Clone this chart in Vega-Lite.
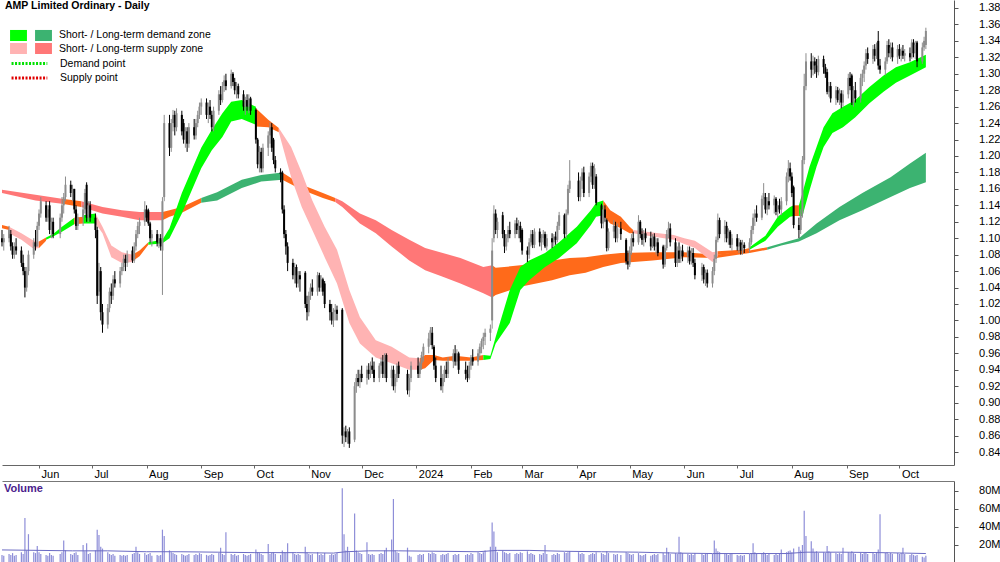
{
"$schema": "https://vega.github.io/schema/vega-lite/v6.json",
"padding": 0,
"autosize": {"type": "pad"},
"background": "white",
"config": {
 "view": {"stroke": null},
 "font": "Liberation Sans",
 "concat": {"spacing": 2},
 "axis": {"labelFont": "Liberation Sans", "labelColor": "#000", "domainColor": "#555", "tickColor": "#555", "grid": false, "title": null, "labelOverlap": false, "labelFontWeight": "normal"},
 "legend": {"labelFont": "Liberation Sans", "labelColor": "#000", "labelFontSize": 10.5, "padding": 0, "title": null}
},
"datasets": {
"px": [
{"d":"2023-05-11","o":1.100,"h":1.110,"l":1.090,"c":1.095,"v":9},
{"d":"2023-05-12","o":1.095,"h":1.105,"l":1.085,"c":1.100,"v":8},
{"d":"2023-05-15","o":1.100,"h":1.115,"l":1.095,"c":1.110,"v":10},
{"d":"2023-05-16","o":1.105,"h":1.110,"l":1.085,"c":1.090,"v":9},
{"d":"2023-05-17","o":1.090,"h":1.095,"l":1.075,"c":1.080,"v":11},
{"d":"2023-05-18","o":1.080,"h":1.095,"l":1.075,"c":1.090,"v":8},
{"d":"2023-05-19","o":1.090,"h":1.100,"l":1.080,"c":1.085,"v":9},
{"d":"2023-05-22","o":1.085,"h":1.090,"l":1.065,"c":1.070,"v":12},
{"d":"2023-05-23","o":1.070,"h":1.080,"l":1.055,"c":1.060,"v":10},
{"d":"2023-05-24","o":1.060,"h":1.065,"l":1.028,"c":1.040,"v":50},
{"d":"2023-05-25","o":1.040,"h":1.065,"l":1.035,"c":1.060,"v":14},
{"d":"2023-05-26","o":1.060,"h":1.085,"l":1.055,"c":1.080,"v":32},
{"d":"2023-05-29","o":1.080,"h":1.100,"l":1.075,"c":1.095,"v":12},
{"d":"2023-05-30","o":1.095,"h":1.110,"l":1.085,"c":1.090,"v":11},
{"d":"2023-05-31","o":1.090,"h":1.120,"l":1.090,"c":1.115,"v":19},
{"d":"2023-06-01","o":1.115,"h":1.135,"l":1.110,"c":1.130,"v":12},
{"d":"2023-06-02","o":1.130,"h":1.150,"l":1.125,"c":1.145,"v":10},
{"d":"2023-06-05","o":1.140,"h":1.145,"l":1.120,"c":1.125,"v":9},
{"d":"2023-06-06","o":1.125,"h":1.140,"l":1.120,"c":1.135,"v":8},
{"d":"2023-06-07","o":1.140,"h":1.145,"l":1.105,"c":1.110,"v":11},
{"d":"2023-06-08","o":1.110,"h":1.125,"l":1.100,"c":1.120,"v":9},
{"d":"2023-06-09","o":1.120,"h":1.125,"l":1.100,"c":1.105,"v":8},
{"d":"2023-06-13","o":1.105,"h":1.130,"l":1.100,"c":1.125,"v":10},
{"d":"2023-06-14","o":1.125,"h":1.150,"l":1.120,"c":1.140,"v":12},
{"d":"2023-06-15","o":1.140,"h":1.155,"l":1.130,"c":1.150,"v":25},
{"d":"2023-06-16","o":1.150,"h":1.175,"l":1.145,"c":1.165,"v":14},
{"d":"2023-06-19","o":1.165,"h":1.170,"l":1.150,"c":1.155,"v":10},
{"d":"2023-06-20","o":1.155,"h":1.165,"l":1.145,"c":1.160,"v":9},
{"d":"2023-06-21","o":1.160,"h":1.160,"l":1.130,"c":1.135,"v":11},
{"d":"2023-06-22","o":1.135,"h":1.140,"l":1.110,"c":1.115,"v":12},
{"d":"2023-06-23","o":1.115,"h":1.130,"l":1.110,"c":1.125,"v":9},
{"d":"2023-06-26","o":1.125,"h":1.140,"l":1.115,"c":1.135,"v":20},
{"d":"2023-06-27","o":1.135,"h":1.160,"l":1.130,"c":1.155,"v":13},
{"d":"2023-06-28","o":1.165,"h":1.168,"l":1.120,"c":1.125,"v":22},
{"d":"2023-06-29","o":1.125,"h":1.145,"l":1.120,"c":1.140,"v":10},
{"d":"2023-06-30","o":1.140,"h":1.145,"l":1.120,"c":1.125,"v":11},
{"d":"2023-07-03","o":1.125,"h":1.130,"l":1.100,"c":1.110,"v":14},
{"d":"2023-07-04","o":1.110,"h":1.114,"l":1.020,"c":1.030,"v":37},
{"d":"2023-07-05","o":1.035,"h":1.070,"l":1.030,"c":1.060,"v":31},
{"d":"2023-07-06","o":1.060,"h":1.065,"l":1.000,"c":1.010,"v":18},
{"d":"2023-07-07","o":1.010,"h":1.020,"l":0.985,"c":0.995,"v":16},
{"d":"2023-07-10","o":0.995,"h":1.020,"l":0.990,"c":1.015,"v":12},
{"d":"2023-07-11","o":1.015,"h":1.040,"l":1.010,"c":1.035,"v":10},
{"d":"2023-07-12","o":1.035,"h":1.045,"l":1.020,"c":1.030,"v":9},
{"d":"2023-07-13","o":1.030,"h":1.055,"l":1.025,"c":1.050,"v":10},
{"d":"2023-07-14","o":1.050,"h":1.060,"l":1.040,"c":1.045,"v":8},
{"d":"2023-07-17","o":1.045,"h":1.065,"l":1.040,"c":1.060,"v":9},
{"d":"2023-07-18","o":1.060,"h":1.070,"l":1.055,"c":1.065,"v":8},
{"d":"2023-07-19","o":1.065,"h":1.080,"l":1.060,"c":1.075,"v":9},
{"d":"2023-07-20","o":1.075,"h":1.080,"l":1.060,"c":1.070,"v":8},
{"d":"2023-07-21","o":1.070,"h":1.085,"l":1.065,"c":1.080,"v":9},
{"d":"2023-07-24","o":1.085,"h":1.090,"l":1.070,"c":1.073,"v":10},
{"d":"2023-07-25","o":1.073,"h":1.095,"l":1.070,"c":1.090,"v":11},
{"d":"2023-07-26","o":1.090,"h":1.110,"l":1.085,"c":1.105,"v":18},
{"d":"2023-07-27","o":1.105,"h":1.120,"l":1.100,"c":1.115,"v":12},
{"d":"2023-07-28","o":1.115,"h":1.125,"l":1.105,"c":1.120,"v":10},
{"d":"2023-07-31","o":1.120,"h":1.145,"l":1.115,"c":1.135,"v":11},
{"d":"2023-08-01","o":1.135,"h":1.140,"l":1.120,"c":1.125,"v":9},
{"d":"2023-08-02","o":1.134,"h":1.136,"l":1.115,"c":1.118,"v":10},
{"d":"2023-08-03","o":1.118,"h":1.120,"l":1.095,"c":1.100,"v":11},
{"d":"2023-08-04","o":1.100,"h":1.110,"l":1.090,"c":1.105,"v":8},
{"d":"2023-08-07","o":1.105,"h":1.110,"l":1.090,"c":1.095,"v":9},
{"d":"2023-08-08","o":1.095,"h":1.105,"l":1.088,"c":1.100,"v":8},
{"d":"2023-08-09","o":1.100,"h":1.105,"l":1.085,"c":1.090,"v":9},
{"d":"2023-08-10","o":1.085,"h":1.150,"l":1.031,"c":1.145,"v":37},
{"d":"2023-08-11","o":1.150,"h":1.250,"l":1.145,"c":1.240,"v":30},
{"d":"2023-08-14","o":1.240,"h":1.250,"l":1.200,"c":1.210,"v":14},
{"d":"2023-08-15","o":1.210,"h":1.245,"l":1.205,"c":1.240,"v":12},
{"d":"2023-08-16","o":1.240,"h":1.256,"l":1.230,"c":1.250,"v":11},
{"d":"2023-08-17","o":1.250,"h":1.255,"l":1.225,"c":1.235,"v":10},
{"d":"2023-08-18","o":1.235,"h":1.258,"l":1.230,"c":1.252,"v":9},
{"d":"2023-08-21","o":1.250,"h":1.255,"l":1.225,"c":1.230,"v":10},
{"d":"2023-08-22","o":1.240,"h":1.245,"l":1.215,"c":1.220,"v":9},
{"d":"2023-08-23","o":1.220,"h":1.235,"l":1.210,"c":1.230,"v":8},
{"d":"2023-08-24","o":1.230,"h":1.235,"l":1.205,"c":1.215,"v":9},
{"d":"2023-08-25","o":1.215,"h":1.240,"l":1.210,"c":1.235,"v":10},
{"d":"2023-08-28","o":1.235,"h":1.245,"l":1.220,"c":1.225,"v":9},
{"d":"2023-08-29","o":1.225,"h":1.245,"l":1.220,"c":1.240,"v":10},
{"d":"2023-08-30","o":1.240,"h":1.255,"l":1.235,"c":1.250,"v":9},
{"d":"2023-08-31","o":1.250,"h":1.265,"l":1.245,"c":1.260,"v":11},
{"d":"2023-09-01","o":1.260,"h":1.270,"l":1.250,"c":1.265,"v":10},
{"d":"2023-09-04","o":1.265,"h":1.270,"l":1.245,"c":1.250,"v":9},
{"d":"2023-09-05","o":1.250,"h":1.265,"l":1.240,"c":1.260,"v":8},
{"d":"2023-09-06","o":1.260,"h":1.268,"l":1.245,"c":1.250,"v":9},
{"d":"2023-09-07","o":1.250,"h":1.255,"l":1.230,"c":1.235,"v":10},
{"d":"2023-09-08","o":1.235,"h":1.260,"l":1.230,"c":1.255,"v":9},
{"d":"2023-09-11","o":1.255,"h":1.280,"l":1.250,"c":1.275,"v":11},
{"d":"2023-09-12","o":1.275,"h":1.285,"l":1.262,"c":1.268,"v":17},
{"d":"2023-09-13","o":1.268,"h":1.290,"l":1.265,"c":1.285,"v":10},
{"d":"2023-09-14","o":1.285,"h":1.298,"l":1.278,"c":1.292,"v":9},
{"d":"2023-09-15","o":1.292,"h":1.300,"l":1.280,"c":1.285,"v":34},
{"d":"2023-09-18","o":1.285,"h":1.305,"l":1.282,"c":1.300,"v":10},
{"d":"2023-09-19","o":1.300,"h":1.302,"l":1.285,"c":1.290,"v":9},
{"d":"2023-09-20","o":1.290,"h":1.295,"l":1.275,"c":1.280,"v":10},
{"d":"2023-09-21","o":1.280,"h":1.290,"l":1.270,"c":1.285,"v":8},
{"d":"2023-09-22","o":1.285,"h":1.288,"l":1.270,"c":1.275,"v":9},
{"d":"2023-09-25","o":1.275,"h":1.280,"l":1.255,"c":1.260,"v":10},
{"d":"2023-09-26","o":1.260,"h":1.272,"l":1.250,"c":1.268,"v":9},
{"d":"2023-09-27","o":1.268,"h":1.275,"l":1.255,"c":1.260,"v":8},
{"d":"2023-09-28","o":1.260,"h":1.275,"l":1.252,"c":1.270,"v":9},
{"d":"2023-09-29","o":1.270,"h":1.272,"l":1.250,"c":1.255,"v":10},
{"d":"2023-10-02","o":1.256,"h":1.258,"l":1.215,"c":1.220,"v":15},
{"d":"2023-10-03","o":1.220,"h":1.222,"l":1.185,"c":1.190,"v":12},
{"d":"2023-10-04","o":1.190,"h":1.212,"l":1.180,"c":1.205,"v":11},
{"d":"2023-10-05","o":1.205,"h":1.210,"l":1.180,"c":1.185,"v":10},
{"d":"2023-10-06","o":1.185,"h":1.215,"l":1.180,"c":1.210,"v":9},
{"d":"2023-10-09","o":1.210,"h":1.230,"l":1.200,"c":1.225,"v":21},
{"d":"2023-10-10","o":1.225,"h":1.241,"l":1.215,"c":1.235,"v":10},
{"d":"2023-10-11","o":1.235,"h":1.240,"l":1.205,"c":1.210,"v":11},
{"d":"2023-10-12","o":1.220,"h":1.222,"l":1.190,"c":1.195,"v":12},
{"d":"2023-10-13","o":1.195,"h":1.200,"l":1.180,"c":1.185,"v":10},
{"d":"2023-10-16","o":1.180,"h":1.185,"l":1.168,"c":1.178,"v":9},
{"d":"2023-10-17","o":1.180,"h":1.182,"l":1.130,"c":1.135,"v":14},
{"d":"2023-10-18","o":1.135,"h":1.140,"l":1.100,"c":1.105,"v":12},
{"d":"2023-10-19","o":1.105,"h":1.110,"l":1.080,"c":1.090,"v":11},
{"d":"2023-10-20","o":1.090,"h":1.095,"l":1.060,"c":1.070,"v":22},
{"d":"2023-10-23","o":1.070,"h":1.075,"l":1.050,"c":1.055,"v":12},
{"d":"2023-10-24","o":1.055,"h":1.070,"l":1.045,"c":1.065,"v":10},
{"d":"2023-10-25","o":1.065,"h":1.068,"l":1.040,"c":1.045,"v":9},
{"d":"2023-10-26","o":1.045,"h":1.060,"l":1.040,"c":1.055,"v":10},
{"d":"2023-10-27","o":1.055,"h":1.060,"l":1.035,"c":1.050,"v":9},
{"d":"2023-10-30","o":1.058,"h":1.060,"l":1.015,"c":1.020,"v":18},
{"d":"2023-10-31","o":1.020,"h":1.030,"l":1.000,"c":1.010,"v":12},
{"d":"2023-11-01","o":1.010,"h":1.035,"l":1.005,"c":1.030,"v":10},
{"d":"2023-11-02","o":1.030,"h":1.045,"l":1.025,"c":1.040,"v":9},
{"d":"2023-11-03","o":1.040,"h":1.050,"l":1.030,"c":1.035,"v":10},
{"d":"2023-11-06","o":1.035,"h":1.059,"l":1.030,"c":1.055,"v":12},
{"d":"2023-11-07","o":1.055,"h":1.058,"l":1.035,"c":1.040,"v":9},
{"d":"2023-11-08","o":1.040,"h":1.055,"l":1.035,"c":1.050,"v":10},
{"d":"2023-11-09","o":1.050,"h":1.052,"l":1.030,"c":1.035,"v":9},
{"d":"2023-11-10","o":1.045,"h":1.048,"l":1.015,"c":1.020,"v":11},
{"d":"2023-11-13","o":1.020,"h":1.025,"l":1.000,"c":1.010,"v":9},
{"d":"2023-11-14","o":1.010,"h":1.020,"l":0.995,"c":1.000,"v":10},
{"d":"2023-11-15","o":1.000,"h":1.015,"l":0.992,"c":1.010,"v":9},
{"d":"2023-11-16","o":1.010,"h":1.020,"l":1.000,"c":1.013,"v":10},
{"d":"2023-11-17","o":1.013,"h":1.018,"l":1.000,"c":1.008,"v":11},
{"d":"2023-11-20","o":1.013,"h":1.015,"l":0.850,"c":0.860,"v":83},
{"d":"2023-11-21","o":0.860,"h":0.870,"l":0.846,"c":0.865,"v":32},
{"d":"2023-11-22","o":0.865,"h":0.872,"l":0.852,"c":0.858,"v":14},
{"d":"2023-11-23","o":0.858,"h":0.868,"l":0.850,"c":0.865,"v":18},
{"d":"2023-11-24","o":0.865,"h":0.870,"l":0.845,"c":0.850,"v":12},
{"d":"2023-11-27","o":0.855,"h":0.925,"l":0.852,"c":0.920,"v":55},
{"d":"2023-11-28","o":0.920,"h":0.935,"l":0.912,"c":0.930,"v":14},
{"d":"2023-11-29","o":0.930,"h":0.940,"l":0.920,"c":0.925,"v":12},
{"d":"2023-11-30","o":0.925,"h":0.940,"l":0.918,"c":0.935,"v":11},
{"d":"2023-12-01","o":0.935,"h":0.945,"l":0.925,"c":0.930,"v":10},
{"d":"2023-12-04","o":0.930,"h":0.945,"l":0.922,"c":0.940,"v":23},
{"d":"2023-12-05","o":0.940,"h":0.948,"l":0.928,"c":0.935,"v":10},
{"d":"2023-12-06","o":0.935,"h":0.950,"l":0.930,"c":0.945,"v":9},
{"d":"2023-12-07","o":0.945,"h":0.955,"l":0.935,"c":0.940,"v":10},
{"d":"2023-12-08","o":0.940,"h":0.950,"l":0.925,"c":0.930,"v":9},
{"d":"2023-12-11","o":0.930,"h":0.948,"l":0.925,"c":0.945,"v":10},
{"d":"2023-12-12","o":0.945,"h":0.955,"l":0.935,"c":0.950,"v":11},
{"d":"2023-12-13","o":0.950,"h":0.958,"l":0.930,"c":0.935,"v":10},
{"d":"2023-12-14","o":0.935,"h":0.960,"l":0.930,"c":0.955,"v":14},
{"d":"2023-12-15","o":0.958,"h":0.960,"l":0.925,"c":0.930,"v":17},
{"d":"2023-12-18","o":0.930,"h":0.945,"l":0.920,"c":0.940,"v":26},
{"d":"2023-12-19","o":0.940,"h":0.945,"l":0.915,"c":0.920,"v":71},
{"d":"2023-12-20","o":0.920,"h":0.935,"l":0.912,"c":0.930,"v":14},
{"d":"2023-12-21","o":0.930,"h":0.948,"l":0.925,"c":0.945,"v":12},
{"d":"2023-12-22","o":0.945,"h":0.950,"l":0.930,"c":0.935,"v":11},
{"d":"2023-12-27","o":0.935,"h":0.940,"l":0.910,"c":0.915,"v":17},
{"d":"2023-12-28","o":0.915,"h":0.935,"l":0.907,"c":0.930,"v":8},
{"d":"2023-12-29","o":0.930,"h":0.950,"l":0.925,"c":0.945,"v":7},
{"d":"2024-01-02","o":0.945,"h":0.955,"l":0.930,"c":0.935,"v":9},
{"d":"2024-01-03","o":0.935,"h":0.950,"l":0.930,"c":0.948,"v":10},
{"d":"2024-01-04","o":0.948,"h":0.962,"l":0.940,"c":0.958,"v":9},
{"d":"2024-01-05","o":0.958,"h":0.972,"l":0.950,"c":0.968,"v":10},
{"d":"2024-01-08","o":0.968,"h":0.985,"l":0.960,"c":0.978,"v":11},
{"d":"2024-01-09","o":0.978,"h":0.992,"l":0.970,"c":0.988,"v":10},
{"d":"2024-01-10","o":0.985,"h":0.992,"l":0.965,"c":0.970,"v":12},
{"d":"2024-01-11","o":0.968,"h":0.970,"l":0.940,"c":0.945,"v":11},
{"d":"2024-01-12","o":0.945,"h":0.955,"l":0.925,"c":0.930,"v":10},
{"d":"2024-01-15","o":0.930,"h":0.945,"l":0.915,"c":0.920,"v":9},
{"d":"2024-01-16","o":0.920,"h":0.935,"l":0.912,"c":0.930,"v":10},
{"d":"2024-01-17","o":0.930,"h":0.945,"l":0.925,"c":0.940,"v":9},
{"d":"2024-01-18","o":0.940,"h":0.950,"l":0.930,"c":0.935,"v":10},
{"d":"2024-01-19","o":0.935,"h":0.955,"l":0.930,"c":0.950,"v":11},
{"d":"2024-01-22","o":0.950,"h":0.965,"l":0.942,"c":0.960,"v":9},
{"d":"2024-01-23","o":0.960,"h":0.970,"l":0.945,"c":0.950,"v":10},
{"d":"2024-01-24","o":0.950,"h":0.965,"l":0.945,"c":0.960,"v":9},
{"d":"2024-01-25","o":0.960,"h":0.962,"l":0.935,"c":0.940,"v":10},
{"d":"2024-01-29","o":0.940,"h":0.950,"l":0.928,"c":0.935,"v":9},
{"d":"2024-01-30","o":0.935,"h":0.945,"l":0.925,"c":0.930,"v":10},
{"d":"2024-01-31","o":0.930,"h":0.950,"l":0.928,"c":0.945,"v":9},
{"d":"2024-02-01","o":0.945,"h":0.958,"l":0.940,"c":0.955,"v":11},
{"d":"2024-02-02","o":0.955,"h":0.965,"l":0.945,"c":0.950,"v":10},
{"d":"2024-02-05","o":0.950,"h":0.965,"l":0.945,"c":0.960,"v":12},
{"d":"2024-02-06","o":0.960,"h":0.972,"l":0.955,"c":0.968,"v":11},
{"d":"2024-02-07","o":0.968,"h":0.978,"l":0.960,"c":0.975,"v":10},
{"d":"2024-02-08","o":0.975,"h":0.985,"l":0.965,"c":0.980,"v":12},
{"d":"2024-02-09","o":0.980,"h":0.990,"l":0.970,"c":0.985,"v":14},
{"d":"2024-02-12","o":0.985,"h":0.995,"l":0.975,"c":0.990,"v":18},
{"d":"2024-02-13","o":1.000,"h":1.100,"l":0.990,"c":1.085,"v":45},
{"d":"2024-02-14","o":1.100,"h":1.140,"l":1.095,"c":1.130,"v":35},
{"d":"2024-02-15","o":1.130,"h":1.135,"l":1.105,"c":1.110,"v":18},
{"d":"2024-02-16","o":1.110,"h":1.125,"l":1.100,"c":1.120,"v":12},
{"d":"2024-02-19","o":1.128,"h":1.132,"l":1.100,"c":1.105,"v":14},
{"d":"2024-02-20","o":1.105,"h":1.110,"l":1.082,"c":1.090,"v":12},
{"d":"2024-02-21","o":1.090,"h":1.105,"l":1.085,"c":1.100,"v":11},
{"d":"2024-02-22","o":1.100,"h":1.115,"l":1.095,"c":1.110,"v":10},
{"d":"2024-02-23","o":1.110,"h":1.120,"l":1.100,"c":1.105,"v":11},
{"d":"2024-02-26","o":1.105,"h":1.122,"l":1.100,"c":1.118,"v":10},
{"d":"2024-02-27","o":1.118,"h":1.125,"l":1.105,"c":1.110,"v":11},
{"d":"2024-02-28","o":1.110,"h":1.122,"l":1.100,"c":1.115,"v":10},
{"d":"2024-02-29","o":1.115,"h":1.120,"l":1.095,"c":1.100,"v":12},
{"d":"2024-03-01","o":1.110,"h":1.112,"l":1.080,"c":1.085,"v":11},
{"d":"2024-03-04","o":1.085,"h":1.090,"l":1.071,"c":1.080,"v":13},
{"d":"2024-03-05","o":1.080,"h":1.100,"l":1.075,"c":1.095,"v":10},
{"d":"2024-03-06","o":1.095,"h":1.110,"l":1.090,"c":1.105,"v":11},
{"d":"2024-03-07","o":1.105,"h":1.110,"l":1.088,"c":1.092,"v":10},
{"d":"2024-03-08","o":1.092,"h":1.112,"l":1.088,"c":1.108,"v":9},
{"d":"2024-03-11","o":1.108,"h":1.112,"l":1.090,"c":1.095,"v":10},
{"d":"2024-03-12","o":1.095,"h":1.105,"l":1.085,"c":1.100,"v":9},
{"d":"2024-03-13","o":1.100,"h":1.110,"l":1.092,"c":1.105,"v":11},
{"d":"2024-03-14","o":1.105,"h":1.108,"l":1.088,"c":1.090,"v":20},
{"d":"2024-03-15","o":1.090,"h":1.105,"l":1.085,"c":1.100,"v":10},
{"d":"2024-03-18","o":1.100,"h":1.106,"l":1.088,"c":1.095,"v":9},
{"d":"2024-03-19","o":1.095,"h":1.105,"l":1.090,"c":1.102,"v":10},
{"d":"2024-03-20","o":1.102,"h":1.108,"l":1.092,"c":1.098,"v":9},
{"d":"2024-03-21","o":1.098,"h":1.120,"l":1.095,"c":1.115,"v":11},
{"d":"2024-03-22","o":1.115,"h":1.132,"l":1.110,"c":1.128,"v":10},
{"d":"2024-03-25","o":1.128,"h":1.130,"l":1.100,"c":1.105,"v":12},
{"d":"2024-03-26","o":1.105,"h":1.135,"l":1.100,"c":1.130,"v":11},
{"d":"2024-03-27","o":1.130,"h":1.165,"l":1.128,"c":1.160,"v":12},
{"d":"2024-03-28","o":1.160,"h":1.195,"l":1.155,"c":1.170,"v":13},
{"d":"2024-04-02","o":1.170,"h":1.180,"l":1.145,"c":1.150,"v":12},
{"d":"2024-04-03","o":1.150,"h":1.175,"l":1.145,"c":1.170,"v":10},
{"d":"2024-04-04","o":1.170,"h":1.185,"l":1.160,"c":1.180,"v":11},
{"d":"2024-04-05","o":1.180,"h":1.187,"l":1.150,"c":1.155,"v":10},
{"d":"2024-04-08","o":1.155,"h":1.180,"l":1.150,"c":1.175,"v":9},
{"d":"2024-04-09","o":1.175,"h":1.192,"l":1.168,"c":1.188,"v":10},
{"d":"2024-04-10","o":1.188,"h":1.192,"l":1.160,"c":1.165,"v":11},
{"d":"2024-04-11","o":1.165,"h":1.190,"l":1.160,"c":1.185,"v":10},
{"d":"2024-04-12","o":1.175,"h":1.178,"l":1.140,"c":1.143,"v":12},
{"d":"2024-04-15","o":1.140,"h":1.142,"l":1.112,"c":1.118,"v":11},
{"d":"2024-04-16","o":1.118,"h":1.140,"l":1.112,"c":1.135,"v":10},
{"d":"2024-04-17","o":1.135,"h":1.140,"l":1.120,"c":1.125,"v":9},
{"d":"2024-04-18","o":1.122,"h":1.124,"l":1.084,"c":1.088,"v":13},
{"d":"2024-04-19","o":1.088,"h":1.112,"l":1.085,"c":1.108,"v":11},
{"d":"2024-04-22","o":1.108,"h":1.122,"l":1.100,"c":1.115,"v":10},
{"d":"2024-04-23","o":1.115,"h":1.120,"l":1.095,"c":1.100,"v":9},
{"d":"2024-04-24","o":1.100,"h":1.118,"l":1.095,"c":1.112,"v":10},
{"d":"2024-04-26","o":1.112,"h":1.120,"l":1.098,"c":1.105,"v":9},
{"d":"2024-04-29","o":1.098,"h":1.100,"l":1.068,"c":1.072,"v":12},
{"d":"2024-04-30","o":1.072,"h":1.085,"l":1.062,"c":1.068,"v":11},
{"d":"2024-05-01","o":1.068,"h":1.090,"l":1.065,"c":1.085,"v":10},
{"d":"2024-05-02","o":1.085,"h":1.105,"l":1.080,"c":1.100,"v":9},
{"d":"2024-05-03","o":1.100,"h":1.108,"l":1.090,"c":1.095,"v":10},
{"d":"2024-05-06","o":1.095,"h":1.128,"l":1.092,"c":1.120,"v":11},
{"d":"2024-05-07","o":1.120,"h":1.122,"l":1.100,"c":1.105,"v":9},
{"d":"2024-05-08","o":1.105,"h":1.112,"l":1.092,"c":1.098,"v":8},
{"d":"2024-05-09","o":1.098,"h":1.110,"l":1.090,"c":1.106,"v":9},
{"d":"2024-05-10","o":1.106,"h":1.112,"l":1.095,"c":1.100,"v":10},
{"d":"2024-05-13","o":1.100,"h":1.108,"l":1.085,"c":1.090,"v":8},
{"d":"2024-05-14","o":1.090,"h":1.105,"l":1.088,"c":1.102,"v":9},
{"d":"2024-05-15","o":1.102,"h":1.106,"l":1.085,"c":1.090,"v":10},
{"d":"2024-05-16","o":1.090,"h":1.100,"l":1.080,"c":1.095,"v":9},
{"d":"2024-05-17","o":1.095,"h":1.100,"l":1.078,"c":1.082,"v":10},
{"d":"2024-05-20","o":1.090,"h":1.092,"l":1.063,"c":1.068,"v":11},
{"d":"2024-05-21","o":1.068,"h":1.092,"l":1.065,"c":1.088,"v":9},
{"d":"2024-05-22","o":1.088,"h":1.110,"l":1.085,"c":1.105,"v":17},
{"d":"2024-05-23","o":1.105,"h":1.120,"l":1.100,"c":1.112,"v":12},
{"d":"2024-05-24","o":1.112,"h":1.118,"l":1.090,"c":1.095,"v":10},
{"d":"2024-05-27","o":1.095,"h":1.100,"l":1.065,"c":1.070,"v":11},
{"d":"2024-05-28","o":1.070,"h":1.090,"l":1.065,"c":1.085,"v":10},
{"d":"2024-05-29","o":1.085,"h":1.095,"l":1.070,"c":1.075,"v":29},
{"d":"2024-05-30","o":1.075,"h":1.090,"l":1.070,"c":1.085,"v":12},
{"d":"2024-05-31","o":1.085,"h":1.092,"l":1.072,"c":1.078,"v":11},
{"d":"2024-06-03","o":1.078,"h":1.090,"l":1.070,"c":1.085,"v":10},
{"d":"2024-06-04","o":1.085,"h":1.090,"l":1.068,"c":1.072,"v":9},
{"d":"2024-06-05","o":1.072,"h":1.088,"l":1.068,"c":1.082,"v":10},
{"d":"2024-06-06","o":1.082,"h":1.088,"l":1.065,"c":1.070,"v":9},
{"d":"2024-06-07","o":1.070,"h":1.075,"l":1.050,"c":1.055,"v":11},
{"d":"2024-06-11","o":1.055,"h":1.070,"l":1.048,"c":1.065,"v":10},
{"d":"2024-06-12","o":1.065,"h":1.068,"l":1.045,"c":1.050,"v":9},
{"d":"2024-06-13","o":1.050,"h":1.062,"l":1.042,"c":1.058,"v":10},
{"d":"2024-06-14","o":1.058,"h":1.062,"l":1.040,"c":1.045,"v":11},
{"d":"2024-06-17","o":1.045,"h":1.065,"l":1.040,"c":1.060,"v":10},
{"d":"2024-06-18","o":1.060,"h":1.080,"l":1.055,"c":1.075,"v":25},
{"d":"2024-06-19","o":1.075,"h":1.102,"l":1.070,"c":1.098,"v":16},
{"d":"2024-06-20","o":1.098,"h":1.130,"l":1.095,"c":1.122,"v":13},
{"d":"2024-06-21","o":1.122,"h":1.125,"l":1.100,"c":1.105,"v":12},
{"d":"2024-06-24","o":1.105,"h":1.122,"l":1.095,"c":1.115,"v":11},
{"d":"2024-06-25","o":1.115,"h":1.120,"l":1.095,"c":1.100,"v":10},
{"d":"2024-06-26","o":1.100,"h":1.112,"l":1.092,"c":1.108,"v":9},
{"d":"2024-06-27","o":1.108,"h":1.110,"l":1.088,"c":1.092,"v":10},
{"d":"2024-06-28","o":1.092,"h":1.105,"l":1.085,"c":1.100,"v":11},
{"d":"2024-07-01","o":1.100,"h":1.105,"l":1.085,"c":1.090,"v":9},
{"d":"2024-07-02","o":1.090,"h":1.100,"l":1.082,"c":1.095,"v":8},
{"d":"2024-07-03","o":1.095,"h":1.098,"l":1.080,"c":1.085,"v":9},
{"d":"2024-07-04","o":1.085,"h":1.098,"l":1.080,"c":1.092,"v":8},
{"d":"2024-07-05","o":1.092,"h":1.095,"l":1.082,"c":1.088,"v":9},
{"d":"2024-07-08","o":1.088,"h":1.100,"l":1.082,"c":1.095,"v":10},
{"d":"2024-07-09","o":1.095,"h":1.115,"l":1.092,"c":1.110,"v":11},
{"d":"2024-07-10","o":1.110,"h":1.130,"l":1.105,"c":1.125,"v":22},
{"d":"2024-07-11","o":1.125,"h":1.135,"l":1.115,"c":1.130,"v":12},
{"d":"2024-07-12","o":1.130,"h":1.140,"l":1.120,"c":1.125,"v":10},
{"d":"2024-07-15","o":1.125,"h":1.152,"l":1.122,"c":1.148,"v":11},
{"d":"2024-07-16","o":1.148,"h":1.167,"l":1.140,"c":1.155,"v":12},
{"d":"2024-07-17","o":1.150,"h":1.155,"l":1.130,"c":1.135,"v":10},
{"d":"2024-07-18","o":1.135,"h":1.150,"l":1.128,"c":1.145,"v":9},
{"d":"2024-07-19","o":1.145,"h":1.155,"l":1.135,"c":1.140,"v":10},
{"d":"2024-07-22","o":1.140,"h":1.152,"l":1.130,"c":1.148,"v":9},
{"d":"2024-07-23","o":1.148,"h":1.150,"l":1.128,"c":1.132,"v":10},
{"d":"2024-07-24","o":1.132,"h":1.145,"l":1.125,"c":1.140,"v":9},
{"d":"2024-07-25","o":1.140,"h":1.148,"l":1.130,"c":1.135,"v":11},
{"d":"2024-07-26","o":1.135,"h":1.150,"l":1.128,"c":1.145,"v":15},
{"d":"2024-07-29","o":1.145,"h":1.180,"l":1.140,"c":1.175,"v":12},
{"d":"2024-07-30","o":1.175,"h":1.195,"l":1.168,"c":1.185,"v":13},
{"d":"2024-07-31","o":1.185,"h":1.192,"l":1.170,"c":1.175,"v":14},
{"d":"2024-08-01","o":1.175,"h":1.180,"l":1.150,"c":1.155,"v":12},
{"d":"2024-08-02","o":1.162,"h":1.164,"l":1.112,"c":1.116,"v":16},
{"d":"2024-08-05","o":1.116,"h":1.125,"l":1.100,"c":1.110,"v":18},
{"d":"2024-08-06","o":1.110,"h":1.135,"l":1.105,"c":1.130,"v":14},
{"d":"2024-08-07","o":1.130,"h":1.200,"l":1.125,"c":1.195,"v":20},
{"d":"2024-08-08","o":1.195,"h":1.300,"l":1.190,"c":1.285,"v":58},
{"d":"2024-08-09","o":1.285,"h":1.325,"l":1.280,"c":1.315,"v":30},
{"d":"2024-08-12","o":1.315,"h":1.325,"l":1.295,"c":1.305,"v":24},
{"d":"2024-08-13","o":1.305,"h":1.322,"l":1.298,"c":1.315,"v":16},
{"d":"2024-08-14","o":1.315,"h":1.320,"l":1.300,"c":1.310,"v":12},
{"d":"2024-08-15","o":1.310,"h":1.318,"l":1.295,"c":1.302,"v":13},
{"d":"2024-08-16","o":1.302,"h":1.322,"l":1.298,"c":1.318,"v":11},
{"d":"2024-08-19","o":1.318,"h":1.322,"l":1.300,"c":1.308,"v":12},
{"d":"2024-08-20","o":1.308,"h":1.312,"l":1.295,"c":1.300,"v":11},
{"d":"2024-08-21","o":1.302,"h":1.306,"l":1.275,"c":1.278,"v":19},
{"d":"2024-08-22","o":1.278,"h":1.290,"l":1.272,"c":1.285,"v":13},
{"d":"2024-08-23","o":1.285,"h":1.290,"l":1.265,"c":1.270,"v":12},
{"d":"2024-08-26","o":1.270,"h":1.285,"l":1.262,"c":1.280,"v":11},
{"d":"2024-08-27","o":1.280,"h":1.284,"l":1.265,"c":1.268,"v":10},
{"d":"2024-08-28","o":1.268,"h":1.282,"l":1.262,"c":1.276,"v":11},
{"d":"2024-08-29","o":1.276,"h":1.280,"l":1.258,"c":1.265,"v":10},
{"d":"2024-08-30","o":1.265,"h":1.280,"l":1.260,"c":1.275,"v":17},
{"d":"2024-09-02","o":1.275,"h":1.300,"l":1.270,"c":1.295,"v":12},
{"d":"2024-09-03","o":1.295,"h":1.302,"l":1.280,"c":1.285,"v":11},
{"d":"2024-09-04","o":1.298,"h":1.300,"l":1.262,"c":1.265,"v":13},
{"d":"2024-09-05","o":1.265,"h":1.285,"l":1.260,"c":1.280,"v":11},
{"d":"2024-09-06","o":1.280,"h":1.290,"l":1.265,"c":1.270,"v":10},
{"d":"2024-09-09","o":1.270,"h":1.300,"l":1.265,"c":1.295,"v":11},
{"d":"2024-09-10","o":1.295,"h":1.305,"l":1.285,"c":1.300,"v":10},
{"d":"2024-09-11","o":1.300,"h":1.315,"l":1.290,"c":1.310,"v":11},
{"d":"2024-09-12","o":1.310,"h":1.330,"l":1.305,"c":1.325,"v":12},
{"d":"2024-09-13","o":1.325,"h":1.332,"l":1.312,"c":1.318,"v":10},
{"d":"2024-09-16","o":1.318,"h":1.335,"l":1.312,"c":1.330,"v":11},
{"d":"2024-09-17","o":1.330,"h":1.336,"l":1.315,"c":1.322,"v":10},
{"d":"2024-09-18","o":1.322,"h":1.338,"l":1.318,"c":1.332,"v":12},
{"d":"2024-09-19","o":1.340,"h":1.352,"l":1.305,"c":1.310,"v":15},
{"d":"2024-09-20","o":1.310,"h":1.318,"l":1.300,"c":1.305,"v":54},
{"d":"2024-09-23","o":1.305,"h":1.320,"l":1.298,"c":1.315,"v":11},
{"d":"2024-09-24","o":1.315,"h":1.340,"l":1.312,"c":1.335,"v":12},
{"d":"2024-09-25","o":1.335,"h":1.342,"l":1.320,"c":1.325,"v":10},
{"d":"2024-09-26","o":1.325,"h":1.338,"l":1.318,"c":1.332,"v":11},
{"d":"2024-09-27","o":1.332,"h":1.338,"l":1.315,"c":1.320,"v":10},
{"d":"2024-09-30","o":1.320,"h":1.335,"l":1.312,"c":1.330,"v":11},
{"d":"2024-10-01","o":1.330,"h":1.336,"l":1.318,"c":1.322,"v":10},
{"d":"2024-10-02","o":1.322,"h":1.332,"l":1.315,"c":1.328,"v":11},
{"d":"2024-10-03","o":1.328,"h":1.335,"l":1.318,"c":1.322,"v":17},
{"d":"2024-10-04","o":1.322,"h":1.330,"l":1.315,"c":1.325,"v":10},
{"d":"2024-10-07","o":1.325,"h":1.332,"l":1.315,"c":1.320,"v":9},
{"d":"2024-10-08","o":1.320,"h":1.342,"l":1.318,"c":1.338,"v":10},
{"d":"2024-10-09","o":1.338,"h":1.342,"l":1.320,"c":1.325,"v":9},
{"d":"2024-10-10","o":1.325,"h":1.340,"l":1.318,"c":1.335,"v":8},
{"d":"2024-10-11","o":1.338,"h":1.340,"l":1.308,"c":1.315,"v":9},
{"d":"2024-10-14","o":1.315,"h":1.338,"l":1.312,"c":1.332,"v":7},
{"d":"2024-10-15","o":1.332,"h":1.345,"l":1.328,"c":1.340,"v":6},
{"d":"2024-10-16","o":1.335,"h":1.356,"l":1.330,"c":1.352,"v":8}
],
"st": [
{"d":"2023-05-11","seg":"s1","z":"T","lo":1.112,"hi":1.116},
{"d":"2023-05-15","seg":"s1","z":"T","lo":1.110,"hi":1.114},
{"d":"2023-05-15","seg":"s2","z":"SS","lo":1.106,"hi":1.114},
{"d":"2023-05-22","seg":"s2","z":"SS","lo":1.098,"hi":1.106},
{"d":"2023-05-29","seg":"s2","z":"SS","lo":1.087,"hi":1.097},
{"d":"2023-06-01","seg":"s2","z":"SS","lo":1.088,"hi":1.096},
{"d":"2023-06-01","seg":"s3","z":"T","lo":1.088,"hi":1.096},
{"d":"2023-06-05","seg":"s3","z":"T","lo":1.097,"hi":1.101},
{"d":"2023-06-05","seg":"s4","z":"SD","lo":1.098,"hi":1.101},
{"d":"2023-06-09","seg":"s4","z":"SD","lo":1.102,"hi":1.105},
{"d":"2023-06-14","seg":"s4","z":"SD","lo":1.108,"hi":1.114},
{"d":"2023-06-21","seg":"s4","z":"SD","lo":1.117,"hi":1.125},
{"d":"2023-06-21","seg":"s5","z":"T","lo":1.117,"hi":1.125},
{"d":"2023-06-26","seg":"s5","z":"T","lo":1.118,"hi":1.126},
{"d":"2023-06-26","seg":"s6","z":"SD","lo":1.118,"hi":1.128},
{"d":"2023-07-03","seg":"s6","z":"SD","lo":1.118,"hi":1.130},
{"d":"2023-07-03","seg":"s7","z":"SS","lo":1.118,"hi":1.130},
{"d":"2023-07-07","seg":"s7","z":"SS","lo":1.106,"hi":1.114},
{"d":"2023-07-12","seg":"s7","z":"SS","lo":1.077,"hi":1.091},
{"d":"2023-07-18","seg":"s7","z":"SS","lo":1.070,"hi":1.083},
{"d":"2023-07-24","seg":"s7","z":"SS","lo":1.071,"hi":1.080},
{"d":"2023-07-24","seg":"s8","z":"T","lo":1.072,"hi":1.080},
{"d":"2023-07-28","seg":"s8","z":"T","lo":1.078,"hi":1.085},
{"d":"2023-08-02","seg":"s8","z":"T","lo":1.092,"hi":1.095},
{"d":"2023-08-02","seg":"s9","z":"SD","lo":1.092,"hi":1.095},
{"d":"2023-08-10","seg":"s9","z":"SD","lo":1.094,"hi":1.098},
{"d":"2023-08-14","seg":"s9","z":"SD","lo":1.100,"hi":1.112},
{"d":"2023-08-21","seg":"s9","z":"SD","lo":1.130,"hi":1.155},
{"d":"2023-09-01","seg":"s9","z":"SD","lo":1.185,"hi":1.210},
{"d":"2023-09-07","seg":"s9","z":"SD","lo":1.207,"hi":1.232},
{"d":"2023-09-13","seg":"s9","z":"SD","lo":1.223,"hi":1.252},
{"d":"2023-09-18","seg":"s9","z":"SD","lo":1.242,"hi":1.266},
{"d":"2023-09-24","seg":"s9","z":"SD","lo":1.245,"hi":1.268},
{"d":"2023-10-02","seg":"s9","z":"SD","lo":1.238,"hi":1.260},
{"d":"2023-10-02","seg":"s10","z":"T","lo":1.236,"hi":1.258},
{"d":"2023-10-09","seg":"s10","z":"T","lo":1.235,"hi":1.244},
{"d":"2023-10-15","seg":"s10","z":"T","lo":1.229,"hi":1.234},
{"d":"2023-10-15","seg":"s11","z":"SS","lo":1.229,"hi":1.234},
{"d":"2023-10-22","seg":"s11","z":"SS","lo":1.174,"hi":1.211},
{"d":"2023-10-28","seg":"s11","z":"SS","lo":1.138,"hi":1.180},
{"d":"2023-11-03","seg":"s11","z":"SS","lo":1.110,"hi":1.146},
{"d":"2023-11-10","seg":"s11","z":"SS","lo":1.077,"hi":1.114},
{"d":"2023-11-17","seg":"s11","z":"SS","lo":1.045,"hi":1.086},
{"d":"2023-11-24","seg":"s11","z":"SS","lo":0.997,"hi":1.037},
{"d":"2023-11-30","seg":"s11","z":"SS","lo":0.972,"hi":1.004},
{"d":"2023-12-09","seg":"s11","z":"SS","lo":0.955,"hi":0.976},
{"d":"2023-12-18","seg":"s11","z":"SS","lo":0.948,"hi":0.968},
{"d":"2023-12-28","seg":"s11","z":"SS","lo":0.940,"hi":0.955},
{"d":"2024-01-03","seg":"s11","z":"SS","lo":0.940,"hi":0.954},
{"d":"2024-01-03","seg":"s12","z":"T","lo":0.940,"hi":0.954},
{"d":"2024-01-06","seg":"s12","z":"T","lo":0.942,"hi":0.958},
{"d":"2024-01-11","seg":"s12","z":"T","lo":0.952,"hi":0.958},
{"d":"2024-01-16","seg":"s12","z":"T","lo":0.951,"hi":0.955},
{"d":"2024-01-23","seg":"s12","z":"T","lo":0.951,"hi":0.957},
{"d":"2024-02-01","seg":"s12","z":"T","lo":0.951,"hi":0.955},
{"d":"2024-02-08","seg":"s12","z":"T","lo":0.952,"hi":0.958},
{"d":"2024-02-08","seg":"s13","z":"SD","lo":0.952,"hi":0.958},
{"d":"2024-02-12","seg":"s13","z":"SD","lo":0.953,"hi":0.957},
{"d":"2024-02-15","seg":"s13","z":"SD","lo":0.972,"hi":0.980},
{"d":"2024-02-23","seg":"s13","z":"SD","lo":0.997,"hi":1.037},
{"d":"2024-02-29","seg":"s13","z":"SD","lo":1.037,"hi":1.065},
{"d":"2024-03-05","seg":"s13","z":"SD","lo":1.049,"hi":1.073},
{"d":"2024-03-14","seg":"s13","z":"SD","lo":1.065,"hi":1.082},
{"d":"2024-03-22","seg":"s13","z":"SD","lo":1.076,"hi":1.095},
{"d":"2024-04-01","seg":"s13","z":"SD","lo":1.094,"hi":1.114},
{"d":"2024-04-09","seg":"s13","z":"SD","lo":1.116,"hi":1.134},
{"d":"2024-04-12","seg":"s13","z":"SD","lo":1.126,"hi":1.143},
{"d":"2024-04-16","seg":"s13","z":"SD","lo":1.128,"hi":1.146},
{"d":"2024-04-16","seg":"s14","z":"T","lo":1.128,"hi":1.146},
{"d":"2024-04-20","seg":"s14","z":"T","lo":1.118,"hi":1.134},
{"d":"2024-04-26","seg":"s14","z":"T","lo":1.112,"hi":1.126},
{"d":"2024-05-01","seg":"s14","z":"T","lo":1.106,"hi":1.114},
{"d":"2024-05-03","seg":"s14","z":"T","lo":1.106,"hi":1.110},
{"d":"2024-05-03","seg":"s15","z":"SS","lo":1.106,"hi":1.110},
{"d":"2024-05-14","seg":"s15","z":"SS","lo":1.102,"hi":1.107},
{"d":"2024-05-26","seg":"s15","z":"SS","lo":1.098,"hi":1.104},
{"d":"2024-06-01","seg":"s15","z":"SS","lo":1.093,"hi":1.100},
{"d":"2024-06-07","seg":"s15","z":"SS","lo":1.088,"hi":1.097},
{"d":"2024-06-17","seg":"s15","z":"SS","lo":1.071,"hi":1.083},
{"d":"2024-06-20","seg":"s15","z":"SS","lo":1.078,"hi":1.084},
{"d":"2024-06-20","seg":"s16","z":"T","lo":1.080,"hi":1.084},
{"d":"2024-07-04","seg":"s16","z":"T","lo":1.083,"hi":1.086},
{"d":"2024-07-08","seg":"s16","z":"T","lo":1.085,"hi":1.088},
{"d":"2024-07-08","seg":"s17","z":"SD","lo":1.086,"hi":1.089},
{"d":"2024-07-17","seg":"s17","z":"SD","lo":1.097,"hi":1.103},
{"d":"2024-07-24","seg":"s17","z":"SD","lo":1.114,"hi":1.126},
{"d":"2024-07-31","seg":"s17","z":"SD","lo":1.126,"hi":1.138},
{"d":"2024-08-02","seg":"s17","z":"SD","lo":1.127,"hi":1.140},
{"d":"2024-08-02","seg":"s18","z":"T","lo":1.127,"hi":1.140},
{"d":"2024-08-05","seg":"s18","z":"T","lo":1.127,"hi":1.140},
{"d":"2024-08-05","seg":"s19","z":"SD","lo":1.127,"hi":1.140},
{"d":"2024-08-07","seg":"s19","z":"SD","lo":1.127,"hi":1.155},
{"d":"2024-08-11","seg":"s19","z":"SD","lo":1.158,"hi":1.187},
{"d":"2024-08-15","seg":"s19","z":"SD","lo":1.187,"hi":1.211},
{"d":"2024-08-19","seg":"s19","z":"SD","lo":1.211,"hi":1.235},
{"d":"2024-08-24","seg":"s19","z":"SD","lo":1.228,"hi":1.252},
{"d":"2024-08-30","seg":"s19","z":"SD","lo":1.235,"hi":1.260},
{"d":"2024-09-06","seg":"s19","z":"SD","lo":1.247,"hi":1.268},
{"d":"2024-09-14","seg":"s19","z":"SD","lo":1.264,"hi":1.284},
{"d":"2024-09-22","seg":"s19","z":"SD","lo":1.278,"hi":1.298},
{"d":"2024-09-29","seg":"s19","z":"SD","lo":1.289,"hi":1.308},
{"d":"2024-10-07","seg":"s19","z":"SD","lo":1.298,"hi":1.314},
{"d":"2024-10-16","seg":"s19","z":"SD","lo":1.308,"hi":1.323}
],
"lt": [
{"d":"2023-05-11","seg":"l1","z":"LS","lo":1.155,"hi":1.159},
{"d":"2023-05-30","seg":"l1","z":"LS","lo":1.146,"hi":1.153},
{"d":"2023-06-14","seg":"l1","z":"LS","lo":1.142,"hi":1.148},
{"d":"2023-06-14","seg":"l2","z":"T","lo":1.142,"hi":1.148},
{"d":"2023-06-25","seg":"l2","z":"T","lo":1.138,"hi":1.145},
{"d":"2023-06-25","seg":"l3","z":"LS","lo":1.138,"hi":1.145},
{"d":"2023-07-07","seg":"l3","z":"LS","lo":1.130,"hi":1.138},
{"d":"2023-07-18","seg":"l3","z":"LS","lo":1.126,"hi":1.134},
{"d":"2023-07-28","seg":"l3","z":"LS","lo":1.122,"hi":1.132},
{"d":"2023-08-10","seg":"l3","z":"LS","lo":1.122,"hi":1.132},
{"d":"2023-08-10","seg":"l4","z":"T","lo":1.122,"hi":1.132},
{"d":"2023-08-14","seg":"l4","z":"T","lo":1.126,"hi":1.134},
{"d":"2023-08-21","seg":"l4","z":"T","lo":1.131,"hi":1.138},
{"d":"2023-09-01","seg":"l4","z":"T","lo":1.143,"hi":1.149},
{"d":"2023-09-01","seg":"l5","z":"LD","lo":1.143,"hi":1.149},
{"d":"2023-09-10","seg":"l5","z":"LD","lo":1.146,"hi":1.156},
{"d":"2023-09-24","seg":"l5","z":"LD","lo":1.161,"hi":1.171},
{"d":"2023-10-05","seg":"l5","z":"LD","lo":1.169,"hi":1.177},
{"d":"2023-10-17","seg":"l5","z":"LD","lo":1.171,"hi":1.180},
{"d":"2023-10-17","seg":"l6","z":"T","lo":1.171,"hi":1.180},
{"d":"2023-10-28","seg":"l6","z":"T","lo":1.159,"hi":1.165},
{"d":"2023-11-09","seg":"l6","z":"T","lo":1.149,"hi":1.155},
{"d":"2023-11-16","seg":"l6","z":"T","lo":1.144,"hi":1.149},
{"d":"2023-11-16","seg":"l7","z":"LS","lo":1.144,"hi":1.149},
{"d":"2023-11-20","seg":"l7","z":"LS","lo":1.138,"hi":1.145},
{"d":"2023-11-30","seg":"l7","z":"LS","lo":1.118,"hi":1.130},
{"d":"2023-12-09","seg":"l7","z":"LS","lo":1.106,"hi":1.122},
{"d":"2023-12-18","seg":"l7","z":"LS","lo":1.090,"hi":1.110},
{"d":"2023-12-28","seg":"l7","z":"LS","lo":1.073,"hi":1.098},
{"d":"2024-01-06","seg":"l7","z":"LS","lo":1.061,"hi":1.088},
{"d":"2024-01-16","seg":"l7","z":"LS","lo":1.053,"hi":1.082},
{"d":"2024-01-26","seg":"l7","z":"LS","lo":1.045,"hi":1.076},
{"d":"2024-02-08","seg":"l7","z":"LS","lo":1.033,"hi":1.065},
{"d":"2024-02-13","seg":"l7","z":"LS","lo":1.028,"hi":1.067},
{"d":"2024-02-13","seg":"l8","z":"T","lo":1.028,"hi":1.067},
{"d":"2024-02-15","seg":"l8","z":"T","lo":1.031,"hi":1.064},
{"d":"2024-02-29","seg":"l8","z":"T","lo":1.041,"hi":1.067},
{"d":"2024-03-09","seg":"l8","z":"T","lo":1.045,"hi":1.070},
{"d":"2024-03-18","seg":"l8","z":"T","lo":1.049,"hi":1.073},
{"d":"2024-03-28","seg":"l8","z":"T","lo":1.055,"hi":1.076},
{"d":"2024-04-06","seg":"l8","z":"T","lo":1.058,"hi":1.077},
{"d":"2024-04-16","seg":"l8","z":"T","lo":1.065,"hi":1.080},
{"d":"2024-04-26","seg":"l8","z":"T","lo":1.070,"hi":1.082},
{"d":"2024-05-14","seg":"l8","z":"T","lo":1.073,"hi":1.083},
{"d":"2024-06-01","seg":"l8","z":"T","lo":1.077,"hi":1.083},
{"d":"2024-06-19","seg":"l8","z":"T","lo":1.076,"hi":1.080},
{"d":"2024-07-08","seg":"l8","z":"T","lo":1.082,"hi":1.085},
{"d":"2024-07-18","seg":"l8","z":"T","lo":1.086,"hi":1.089},
{"d":"2024-07-18","seg":"l9","z":"LD","lo":1.086,"hi":1.089},
{"d":"2024-07-26","seg":"l9","z":"LD","lo":1.091,"hi":1.094},
{"d":"2024-08-05","seg":"l9","z":"LD","lo":1.096,"hi":1.100},
{"d":"2024-08-15","seg":"l9","z":"LD","lo":1.106,"hi":1.118},
{"d":"2024-08-28","seg":"l9","z":"LD","lo":1.122,"hi":1.138},
{"d":"2024-09-10","seg":"l9","z":"LD","lo":1.134,"hi":1.155},
{"d":"2024-09-26","seg":"l9","z":"LD","lo":1.150,"hi":1.174},
{"d":"2024-10-07","seg":"l9","z":"LD","lo":1.161,"hi":1.191},
{"d":"2024-10-16","seg":"l9","z":"LD","lo":1.168,"hi":1.204}
],
"vma": [
{"d":"2023-05-11","m":14.5},{"d":"2023-06-01","m":14},{"d":"2023-06-20","m":13.5},{"d":"2023-07-10","m":13.5},
{"d":"2023-08-01","m":12.5},{"d":"2023-08-20","m":12.5},{"d":"2023-09-10","m":12},{"d":"2023-10-01","m":11.5},
{"d":"2023-10-25","m":11.5},{"d":"2023-11-15","m":11},{"d":"2023-11-22","m":12.5},{"d":"2023-12-05","m":13.5},
{"d":"2023-12-22","m":13.5},{"d":"2024-01-15","m":13},{"d":"2024-02-05","m":12.5},{"d":"2024-02-16","m":14},
{"d":"2024-03-05","m":14},{"d":"2024-03-25","m":13},{"d":"2024-04-15","m":12.5},{"d":"2024-05-06","m":12},
{"d":"2024-05-27","m":11},{"d":"2024-06-17","m":10.5},{"d":"2024-07-08","m":10.5},{"d":"2024-07-29","m":10.5},
{"d":"2024-08-09","m":12},{"d":"2024-08-30","m":12},{"d":"2024-09-20","m":11.5},{"d":"2024-10-04","m":11},
{"d":"2024-10-16","m":10.5}
]
},
"vconcat": [
{
 "width": 952,
 "height": 465,
 "title": {"text": "AMP Limited Ordinary - Daily", "anchor": "start", "frame": "group", "offset": -11, "dx": 3, "fontSize": 10.5, "fontWeight": "bold", "color": "#000", "font": "Liberation Sans"},
 "layer": [
  {
   "data": {"name": "lt"},
   "mark": {"type": "area", "opacity": 1},
   "encoding": {
    "x": {"field": "d", "type": "temporal",
      "scale": {"domain": [{"year": 2023, "month": 5, "date": 11}, {"year": 2024, "month": 10, "date": 31, "hours": 23}], "nice": false, "padding": 0},
      "axis": {"orient": "bottom", "tickCount": {"interval": "month", "step": 1},
        "labelExpr": "month(datum.value) == 0 ? timeFormat(datum.value, '%Y') : timeFormat(datum.value, '%b')",
        "labelAlign": "left", "labelOffset": 2, "labelPadding": 0, "tickSize": 3, "labelFontSize": 11, "labelFontWeight": "normal",
        "labelFlush": false, "labelOverlap": false, "domainColor": "#666", "tickColor": "#666", "title": null}},
    "y": {"field": "lo", "type": "quantitative",
      "scale": {"domain": [0.8242, 1.3897], "nice": false, "zero": false},
      "axis": {"orient": "right", "values": [0.84,0.86,0.88,0.90,0.92,0.94,0.96,0.98,1.00,1.02,1.04,1.06,1.08,1.10,1.12,1.14,1.16,1.18,1.20,1.22,1.24,1.26,1.28,1.30,1.32,1.34,1.36,1.38],
        "tickCount": 100, "format": ".2f", "tickSize": 4, "labelAlign": "right", "labelPadding": 42, "labelFontSize": 11,
        "labelOverlap": false, "labelBound": false, "labelSeparation": 0, "title": null}},
    "y2": {"field": "hi"},
    "color": {"field": "z", "type": "nominal",
      "scale": {"domain": ["SD", "LD", "SS", "LS", "T"], "range": ["#00FF00", "#3CB371", "#FFB3B3", "#FF7777", "#FF6A1A"]},
      "legend": {"orient": "none", "legendX": 10, "legendY": 28.5, "direction": "horizontal", "columns": 2, "columnPadding": 1, "rowPadding": 0.5,
        "values": ["SD", "LD", "SS", "LS"],
        "labelExpr": "datum.label == 'LD' ? 'Short- / Long-term demand zone' : datum.label == 'LS' ? 'Short- / Long-term supply zone' : ''",
        "symbolType": "M-1.3,-0.85L1.3,-0.85L1.3,0.85L-1.3,0.85Z", "symbolSize": 169, "symbolStrokeWidth": 0,
        "symbolOpacity": 1, "labelOffset": 9, "labelFontSize": 10.5}},
    "detail": {"field": "seg"}
   }
  },
  {
   "data": {"name": "st"},
   "mark": {"type": "area", "opacity": 1},
   "encoding": {
    "x": {"field": "d", "type": "temporal"},
    "y": {"field": "lo", "type": "quantitative"},
    "y2": {"field": "hi"},
    "color": {"field": "z", "type": "nominal"},
    "detail": {"field": "seg"}
   }
  },
  {
   "data": {"values": []},
   "mark": {"type": "rule", "strokeDash": [2, 1.5], "strokeWidth": 3},
   "encoding": {
    "y": {"field": "lo", "type": "quantitative"},
    "stroke": {"field": "pt", "type": "nominal",
      "scale": {"domain": ["Demand point", "Supply point"], "range": ["#00E000", "#E00000"]},
      "legend": {"orient": "none", "legendX": 10, "legendY": 55.5, "rowPadding": 0.5,
        "symbolType": "M-1.3,0L4.2,0", "symbolSize": 169, "symbolStrokeWidth": 3, "symbolDash": [2, 1.5],
        "symbolFillColor": "transparent", "labelOffset": 32, "labelFontSize": 10.5}}
   }
  },
  {
   "data": {"name": "px"},
   "mark": {"type": "rule", "strokeWidth": 1},
   "encoding": {
    "x": {"field": "d", "type": "temporal"},
    "y": {"field": "l", "type": "quantitative"},
    "y2": {"field": "h"},
    "color": {"condition": {"test": "datum.c >= datum.o", "value": "#8c8c8c"}, "value": "#000000"}
   }
  },
  {
   "data": {"name": "px"},
   "mark": {"type": "bar", "size": 2},
   "encoding": {
    "x": {"field": "d", "type": "temporal"},
    "y": {"field": "o", "type": "quantitative"},
    "y2": {"field": "c"},
    "color": {"condition": {"test": "datum.c >= datum.o", "value": "#8c8c8c"}, "value": "#000000"}
   }
  }
 ]
},
{
 "width": 952,
 "height": 82,
 "title": {"text": "Volume", "anchor": "start", "frame": "group", "offset": -13, "dx": 2, "fontSize": 11, "fontWeight": "bold", "color": "#4B1C8C", "font": "Liberation Sans"},
 "layer": [
  {
   "data": {"name": "px"},
   "mark": {"type": "bar", "size": 1.2, "color": "#8e8ed8"},
   "encoding": {
    "x": {"field": "d", "type": "temporal",
      "scale": {"domain": [{"year": 2023, "month": 5, "date": 11}, {"year": 2024, "month": 10, "date": 31, "hours": 23}], "nice": false, "padding": 0},
      "axis": {"orient": "top", "labels": false, "ticks": false, "domain": true, "domainColor": "#777", "title": null}},
    "y": {"field": "v", "type": "quantitative",
      "scale": {"domain": [0, 91], "nice": false},
      "axis": {"orient": "right", "values": [20, 40, 60, 80], "tickCount": 100, "labelExpr": "datum.value + 'M'", "tickSize": 4,
        "labelAlign": "right", "labelPadding": 42, "labelFontSize": 11, "labelOverlap": false, "labelSeparation": 0, "title": null}}
   }
  },
  {
   "data": {"name": "vma"},
   "mark": {"type": "line", "color": "#6b6bc4", "strokeWidth": 1},
   "encoding": {
    "x": {"field": "d", "type": "temporal"},
    "y": {"field": "m", "type": "quantitative"}
   }
  }
 ]
}
]
}
